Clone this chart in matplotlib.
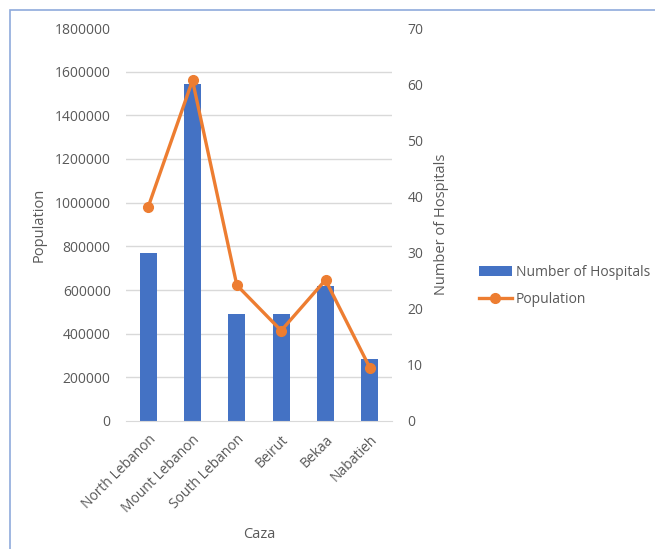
import numpy as np
import matplotlib.pyplot as plt
from matplotlib.patches import Rectangle

plt.rcParams['font.family'] = ['Open Sans', 'DejaVu Sans']

cazas = ["North Lebanon", "Mount Lebanon", "South Lebanon", "Beirut", "Bekaa", "Nabatieh"]
hospitals = [30, 60, 19, 19, 24, 11]
population = [980000, 1560000, 622000, 414000, 646000, 244000]

W, H = 655, 549
fig = plt.figure(figsize=(W / 100, H / 100), dpi=100)

# plot area in pixels: x 126..392, y 28..421
left, right, top, bottom = 126, 392, 28, 421
ax = fig.add_axes([left / W, 1 - bottom / H, (right - left) / W, (bottom - top) / H])
ax2 = ax.twinx()

x = np.arange(len(cazas))
grey = "#595959"
pop_ticks = np.arange(0, 1800001, 200000)

ax2.bar(x, hospitals, width=0.39, color="#4472C4", label="Number of Hospitals", zorder=2)
ax.plot(x, population, color="#ED7D31", lw=2.4, marker="o", ms=7, label="Population", zorder=3)

# line drawn over the bars
ax.set_zorder(ax2.get_zorder() + 1)
ax.patch.set_visible(False)

ax.set_xlim(-0.5, len(cazas) - 0.5)
ax.set_ylim(0, 1800000)
ax.set_yticks(pop_ticks)
ax.ticklabel_format(axis="y", style="plain", useOffset=False)
ax2.set_ylim(0, 70)
ax2.set_yticks(np.arange(0, 71, 10))

# gridlines follow the population ticks but sit under the bars
ax2.set_yticks(pop_ticks * 70 / 1800000, minor=True)
ax2.yaxis.grid(True, which="minor", color="#D9D9D9", lw=1)
ax2.set_axisbelow(True)

for a in (ax, ax2):
    for s in a.spines.values():
        s.set_visible(False)
    a.tick_params(which="both", length=0, labelsize=10, colors=grey)
ax2.spines["bottom"].set_visible(True)
ax2.spines["bottom"].set_color("#D9D9D9")
ax.tick_params(axis="y", pad=11)
ax2.tick_params(axis="y", pad=11)

ax.set_xticks(x)
ax.set_xticklabels(cazas, rotation=45, ha="right", rotation_mode="anchor")
ax.tick_params(axis="x", pad=8)

ax.set_ylabel("Population", fontsize=10.5, color=grey, labelpad=6)
ax2.set_ylabel("Number of Hospitals", fontsize=10.5, color=grey, labelpad=8)
ax.set_xlabel("Caza", fontsize=10.5, color=grey, labelpad=8)

h1, l1 = ax2.get_legend_handles_labels()
h2, l2 = ax.get_legend_handles_labels()
fig.legend(h1 + h2, l1 + l2, loc="center left", bbox_to_anchor=(466 / W, 1 - 286 / H),
           frameon=False, fontsize=10, labelcolor=grey, handlelength=2.4,
           handletextpad=0.3, labelspacing=0.9)

fig.patches.append(Rectangle((10 / W, -0.1), 1.2, 1 - 10 / H + 0.1, transform=fig.transFigure,
                             fill=False, edgecolor="#8FAADC", lw=1.2))

fig.savefig("out.png", dpi=100)
